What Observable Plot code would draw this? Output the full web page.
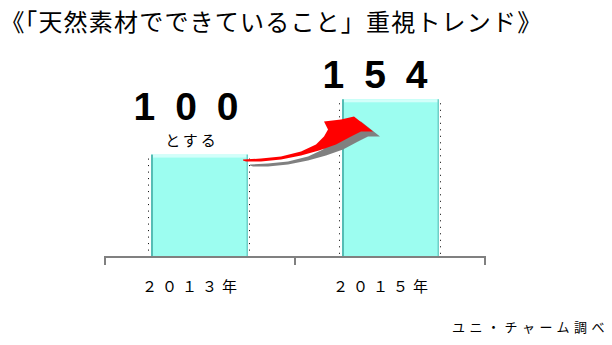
<!DOCTYPE html>
<html>
<head>
<meta charset="utf-8">
<script src="https://cdn.jsdelivr.net/npm/d3@7"></script>
<script src="https://cdn.jsdelivr.net/npm/@observablehq/plot@0.6"></script>
<style>
  body { margin: 0; background: #fff; font-family: "Noto Sans CJK JP", sans-serif; }
  #wrap { width: 612px; height: 345px; position: relative; overflow: hidden; background: #fff; }
  #title { height: 44px; line-height: 42px; font-size: 24px; padding-left: 12px; letter-spacing: 1.2px; white-space: nowrap; color: #000; }
  #title .narrow { font-feature-settings: "palt"; }
  #caption { position: absolute; right: 3px; top: 318px; font-size: 13px; line-height: 18px; letter-spacing: 4.5px; color: #000; }
</style>
</head>
<body>
<div id="wrap">
  <div id="title"></div>
  <div id="chart"></div>
  <div id="caption"></div>
</div>
<script>
// Survey years, index values (2013 = 100) and the note under the base value
const years = ["2013", "2015"];
const values = [100, 154];
const notes = ["とする", ""];
const titleOpen = "《";
const titleText = "「天然素材でできていること」重視トレンド》";
const source = "ユニ・チャーム調べ";

// Half-width digits -> full-width digits
const zen = s => String(s).replace(/[0-9]/g, c => String.fromCharCode(0xFF10 + (+c)));

const data = years.map((y, i) => ({ year: zen(y) + "年", value: values[i], note: notes[i] }));

document.getElementById("title").innerHTML = `<span class="narrow">${titleOpen}</span>${titleText}`;
document.getElementById("caption").textContent = source;

const barFill = "#9cfdf0";

// Axis line with boundary ticks, dotted drop lines, bar edge shading and the growth arrow
function decorations(index, scales, values, dim) {
  const { x, y } = scales;
  const g = d3.create("svg:g");
  const bw = x.bandwidth();
  const cats = data.map(d => d.year);
  const step = x(cats[1]) - x(cats[0]);
  const y0 = y(0);

  // bar edges
  for (const d of data) {
    const xl = x(d.year), xr = xl + bw, yt = y(d.value);
    g.append("rect").attr("x", xl).attr("y", yt).attr("width", bw).attr("height", 3).attr("fill", "#d2fffa");
    g.append("rect").attr("x", xl).attr("y", yt).attr("width", 2).attr("height", y0 - yt).attr("fill", "#55bdb5");
    g.append("rect").attr("x", xr - 1.5).attr("y", yt).attr("width", 1.5).attr("height", y0 - yt).attr("fill", "#6fd0c8");
    for (const xx of [xl - 2.5, xr + 1.5]) {
      g.append("line").attr("x1", xx).attr("x2", xx).attr("y1", yt + 4).attr("y2", y0 - 1)
        .attr("stroke", "#000").attr("stroke-width", 1).attr("stroke-dasharray", "1,5.5");
    }
  }

  // axis
  const left = x(cats[0]) + bw / 2 - step / 2;
  const right = left + step * cats.length;
  g.append("line").attr("x1", left).attr("x2", right).attr("y1", y0).attr("y2", y0)
    .attr("stroke", "#808080").attr("stroke-width", 2);
  for (let i = 0; i <= cats.length; i++) {
    const xx = left + step * i + (i === 0 ? 1 : i === cats.length ? -1 : 0);
    g.append("line").attr("x1", xx).attr("x2", xx).attr("y1", y0 - 1).attr("y2", y0 + 8)
      .attr("stroke", "#808080").attr("stroke-width", 2);
  }

  // curved arrow from the top of the first bar to the second, with a drop shadow
  const shape = [
    [-5, 5], [13, 4], [33, 2], [53, -3], [68, -10], [76, -18], [80, -25],
    [76, -33], [93, -35], [106, -38], [125, -23], [113, -23], [103, -18],
    [88, -10], [71, -4], [53, 1], [33, 5], [13, 7], [-2, 7], [-5, 6]
  ];
  const ax0 = x(cats[0]) + bw, ay0 = y(data[0].value);
  const path = (dx, dy) => "M" + shape.map(([u, v]) => `${ax0 + u + dx},${ay0 + v + dy}`).join("L") + "Z";
  g.append("path").attr("d", path(7, 5)).attr("fill", "#808080");
  g.append("path").attr("d", path(0, 0)).attr("fill", "#ff0000");
  return g.node();
}

const font = "'Noto Sans CJK JP', sans-serif";
const numFont = "'Liberation Sans', Arial, sans-serif";

const chart = Plot.plot({
  width: 612,
  height: 264,
  marginLeft: 103,
  marginRight: 126,
  marginTop: 0,
  marginBottom: 51,
  x: { domain: data.map(d => d.year), paddingInner: 0.493, paddingOuter: 0.2465, axis: null },
  y: { domain: [0, 208], axis: null },
  style: { fontFamily: font, background: "white", overflow: "visible", color: "#000" },
  marks: [
    Plot.barY(data, { x: "year", y: "value", fill: barFill, inset: 0 }),
    decorations,
    Plot.text(data, {
      x: "year", frameAnchor: "bottom", text: "year", lineAnchor: "middle",
      dy: 30, dx: -8, fontSize: 15, fill: "#000"
    }),
    Plot.text(data.filter(d => d.note), {
      x: "year", y: "value", text: d => String(d.value), lineAnchor: "middle",
      dy: -48, dx: -4, fontSize: 39, fontWeight: "bold", fontFamily: numFont, fill: "#000"
    }),
    Plot.text(data.filter(d => d.note), {
      x: "year", y: "value", text: "note", lineAnchor: "middle",
      dy: -14, dx: -8, fontSize: 15, fill: "#000"
    }),
    Plot.text(data.filter(d => !d.note), {
      x: "year", y: "value", text: d => String(d.value), lineAnchor: "middle",
      dy: -24, dx: -6, fontSize: 39, fontWeight: "bold", fontFamily: numFont, fill: "#000"
    })
  ]
});

document.getElementById("chart").appendChild(chart);

// spaced-out lettering for the year labels, the note and the big values
const yearSet = new Set(data.map(d => d.year));
const noteSet = new Set(data.map(d => d.note).filter(Boolean));
const valueSet = new Set(data.map(d => String(d.value)));
chart.querySelectorAll("text").forEach(t => {
  if (yearSet.has(t.textContent)) t.style.letterSpacing = "5px";
  else if (noteSet.has(t.textContent)) t.style.letterSpacing = "3px";
  else if (valueSet.has(t.textContent)) t.style.letterSpacing = "20px";
});
</script>
</body>
</html>
